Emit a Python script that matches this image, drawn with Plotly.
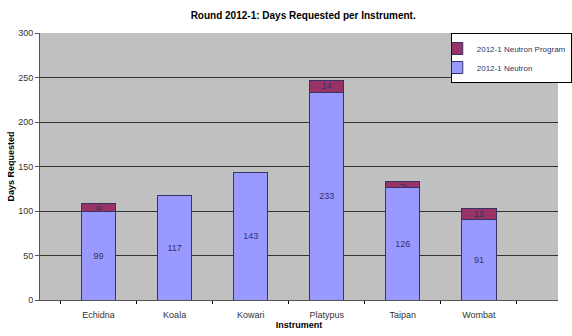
import plotly.graph_objects as go

instruments = ["Echidna", "Koala", "Kowari", "Platypus", "Taipan", "Wombat"]
neutron = [99, 117, 143, 233, 126, 91]
neutron_program = [9, None, None, 14, 7, 12]
y_ticks = [0, 50, 100, 150, 200, 250, 300]

fig = go.Figure()
fig.add_trace(go.Bar(
    x=instruments, y=neutron, name="2012-1 Neutron",
    marker=dict(color="#9999FF", line=dict(color="#333366", width=1)),
    text=[str(v) for v in neutron], textposition="inside", insidetextanchor="middle",
    textfont=dict(size=9, color="#333366", family="Arial"), width=0.45,
))
fig.add_trace(go.Bar(
    x=instruments, y=neutron_program, name="2012-1 Neutron Program",
    marker=dict(color="#993366", line=dict(color="#333366", width=1)),
    text=[str(v) if v else "" for v in neutron_program], textposition="inside",
    insidetextanchor="middle",
    textfont=dict(size=9, color="#333366", family="Arial"), width=0.45,
))

fig.update_layout(
    barmode="stack",
    width=572, height=336,
    margin=dict(l=40, r=0, t=33, b=36),
    paper_bgcolor="white", plot_bgcolor="#C0C0C0",
    font=dict(family="Arial", size=9, color="#333333"),
    uniformtext=dict(minsize=9, mode="show"),
    title=dict(text="<b>Round 2012-1: Days Requested per Instrument.</b>",
               x=0.53, xanchor="center", y=0.955, yanchor="middle",
               font=dict(size=10, color="black")),
    showlegend=True,
    legend=dict(x=0.793, xanchor="left", y=1.0, yanchor="top",
                traceorder="reversed", bgcolor="white",
                bordercolor="black", borderwidth=1,
                font=dict(size=8, color="#333366"),
                itemwidth=30, tracegroupgap=0, indentation=-15),
    xaxis=dict(range=[-0.77, 6.04], showgrid=False, ticks="outside",
               tickson="boundaries", ticklen=3, tickcolor="black",
               showline=True, linecolor="#555555", ticklabelstandoff=6,
               title=dict(text="<b>Instrument</b>", standoff=2,
                          font=dict(size=9, color="black")),
               tickfont=dict(size=9, color="#333333")),
    yaxis=dict(range=[0, 300], tickvals=y_ticks, showgrid=True,
               gridcolor="#333333", gridwidth=1, ticks="outside",
               ticklen=4, tickcolor="#555555", showline=True,
               linecolor="#555555", zeroline=False,
               title=dict(text="<b>Days Requested</b>", standoff=2,
                          font=dict(size=9, color="black")),
               tickfont=dict(size=9, color="#333333")),
)

fig.write_html("out.html")
